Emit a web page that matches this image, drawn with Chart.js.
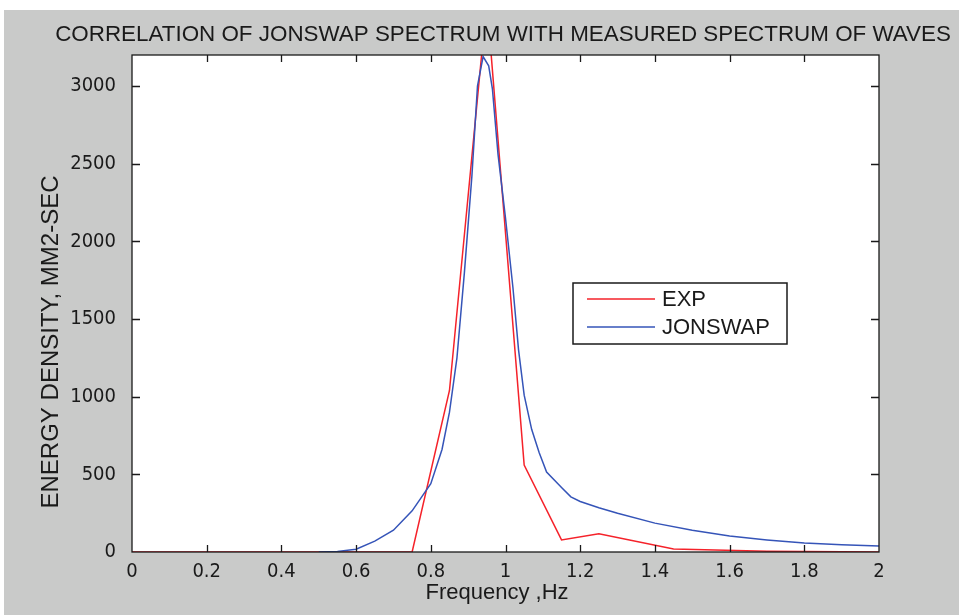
<!DOCTYPE html>
<html>
<head>
<meta charset="utf-8">
<script src="https://cdn.jsdelivr.net/npm/chart.js@4.4.0/dist/chart.umd.min.js"></script>
<style>
  html, body { margin: 0; padding: 0; background: #fff; }
  canvas { display: block; }
</style>
</head>
<body>
<canvas id="grafico" width="959" height="615"></canvas>
<script>
// Datos leídos a ojo del gráfico original
const expFreq   = [0, 0.38, 0.75, 0.85, 0.95, 1.05, 1.15, 1.25, 1.45, 1.70, 2.00];
const expEnergy = [0, 0, 0, 1040, 3550, 560, 78, 118, 20, 5, 0];

const jonFreq   = [0.50, 0.55, 0.60, 0.65, 0.70, 0.75, 0.80, 0.83, 0.85, 0.87, 0.89, 0.91, 0.925, 0.94,
                   0.955, 0.965, 0.98, 1.00, 1.02, 1.035, 1.05, 1.07, 1.09, 1.11, 1.15, 1.175, 1.20,
                   1.25, 1.30, 1.40, 1.50, 1.60, 1.70, 1.80, 1.90, 2.00];
const jonEnergy = [0, 4, 18, 70, 140, 265, 440, 660, 900, 1250, 1800, 2420, 3000, 3190,
                   3130, 2980, 2560, 2150, 1700, 1300, 1010, 790, 640, 515, 415, 355, 325,
                   285, 250, 186, 140, 103, 78, 58, 46, 39];

const xTickValues = [0, 0.2, 0.4, 0.6, 0.8, 1, 1.2, 1.4, 1.6, 1.8, 2];
const yTickValues = [0, 500, 1000, 1500, 2000, 2500, 3000];

const FONT = '"Liberation Sans", Arial, sans-serif';
const FONT_NARROW = '"Liberation Sans Narrow", "Arial Narrow", "DejaVu Sans Condensed", "Liberation Sans", sans-serif';
const GRIS = '#c9cac9';
const TINTA = '#1a1a1a';

function toPoints(xs, ys) {
  return xs.map((x, i) => ({ x: x, y: ys[i] }));
}

// Fondo, caja, marcas hacia adentro, título, etiqueta Y y leyenda (estilo MATLAB)
const estiloMatlab = {
  id: 'estiloMatlab',
  beforeDraw(chart) {
    const { ctx, chartArea: a } = chart;
    ctx.save();
    ctx.fillStyle = '#fff';
    ctx.fillRect(0, 0, chart.width, chart.height);
    ctx.fillStyle = GRIS;
    ctx.fillRect(4, 10, chart.width - 4, chart.height - 10);
    ctx.fillStyle = '#fff';
    ctx.fillRect(a.left, a.top, a.right - a.left, a.bottom - a.top);
    ctx.restore();
  },
  afterDraw(chart) {
    const { ctx, chartArea: a } = chart;
    const sx = chart.scales.x, sy = chart.scales.y;
    ctx.save();
    ctx.strokeStyle = TINTA;
    ctx.lineWidth = 1.3;
    ctx.strokeRect(a.left, a.top, a.right - a.left, a.bottom - a.top);
    ctx.beginPath();
    xTickValues.slice(1, -1).forEach(v => {
      const px = Math.round(sx.getPixelForValue(v)) + 0.5;
      ctx.moveTo(px, a.bottom); ctx.lineTo(px, a.bottom - 7);
      ctx.moveTo(px, a.top); ctx.lineTo(px, a.top + 7);
    });
    yTickValues.slice(1).forEach(v => {
      const py = Math.round(sy.getPixelForValue(v)) + 0.5;
      ctx.moveTo(a.left, py); ctx.lineTo(a.left + 8, py);
      ctx.moveTo(a.right, py); ctx.lineTo(a.right - 8, py);
    });
    ctx.stroke();

    // título
    ctx.fillStyle = TINTA;
    ctx.font = '22.4px ' + FONT;
    ctx.textAlign = 'center';
    ctx.textBaseline = 'middle';
    ctx.fillText('CORRELATION OF JONSWAP SPECTRUM WITH MEASURED SPECTRUM OF WAVES', 503, 35);

    // etiqueta eje Y
    ctx.save();
    ctx.font = '24px ' + FONT;
    ctx.translate(51, 342);
    ctx.rotate(-Math.PI / 2);
    ctx.fillText('ENERGY DENSITY, MM2-SEC', 0, 0);
    ctx.restore();

    // etiqueta eje X
    ctx.font = '22px ' + FONT;
    ctx.fillText('Frequency ,Hz', 497, 593);

    // leyenda
    ctx.fillStyle = '#fff';
    ctx.fillRect(573, 283, 214, 61);
    ctx.strokeStyle = TINTA;
    ctx.lineWidth = 1.5;
    ctx.strokeRect(573, 283, 214, 61);
    ctx.textAlign = 'left';
    chart.data.datasets.forEach((ds, i) => {
      const yy = 299 + i * 28;
      ctx.strokeStyle = ds.borderColor;
      ctx.lineWidth = 1.5;
      ctx.beginPath();
      ctx.moveTo(587, yy); ctx.lineTo(655, yy);
      ctx.stroke();
      ctx.fillStyle = TINTA;
      ctx.fillText(ds.label, 662, yy + 1);
    });
    ctx.restore();
  }
};

new Chart(document.getElementById('grafico'), {
  type: 'line',
  data: {
    datasets: [
      { label: 'EXP', data: toPoints(expFreq, expEnergy), borderColor: '#f5222a', borderWidth: 1.5, pointRadius: 0, order: 1 },
      { label: 'JONSWAP', data: toPoints(jonFreq, jonEnergy), borderColor: '#3554b8', borderWidth: 1.5, pointRadius: 0, order: 0 }
    ]
  },
  options: {
    responsive: false,
    animation: false,
    devicePixelRatio: 1,
    layout: { padding: { top: 55, right: 80, left: 0, bottom: 0 } },
    plugins: { legend: { display: false }, tooltip: { enabled: false } },
    elements: { line: { tension: 0 } },
    scales: {
      x: {
        type: 'linear', min: 0, max: 2,
        afterBuildTicks: s => { s.ticks = xTickValues.map(v => ({ value: v })); },
        afterFit: s => { s.height = 63; },
        grid: { display: false, drawTicks: false },
        border: { display: false },
        ticks: { padding: 8, color: TINTA, font: { family: FONT_NARROW, size: 20 }, maxRotation: 0,
                 callback: v => String(+v.toFixed(1)) }
      },
      y: {
        type: 'linear', min: 0, max: 3200,
        afterBuildTicks: s => { s.ticks = yTickValues.map(v => ({ value: v })); },
        afterFit: s => { s.width = 132; },
        grid: { display: false, drawTicks: false },
        border: { display: false },
        ticks: { padding: 16, color: TINTA, font: { family: FONT_NARROW, size: 20 }, callback: v => String(v) }
      }
    }
  },
  plugins: [estiloMatlab]
});
</script>
</body>
</html>
